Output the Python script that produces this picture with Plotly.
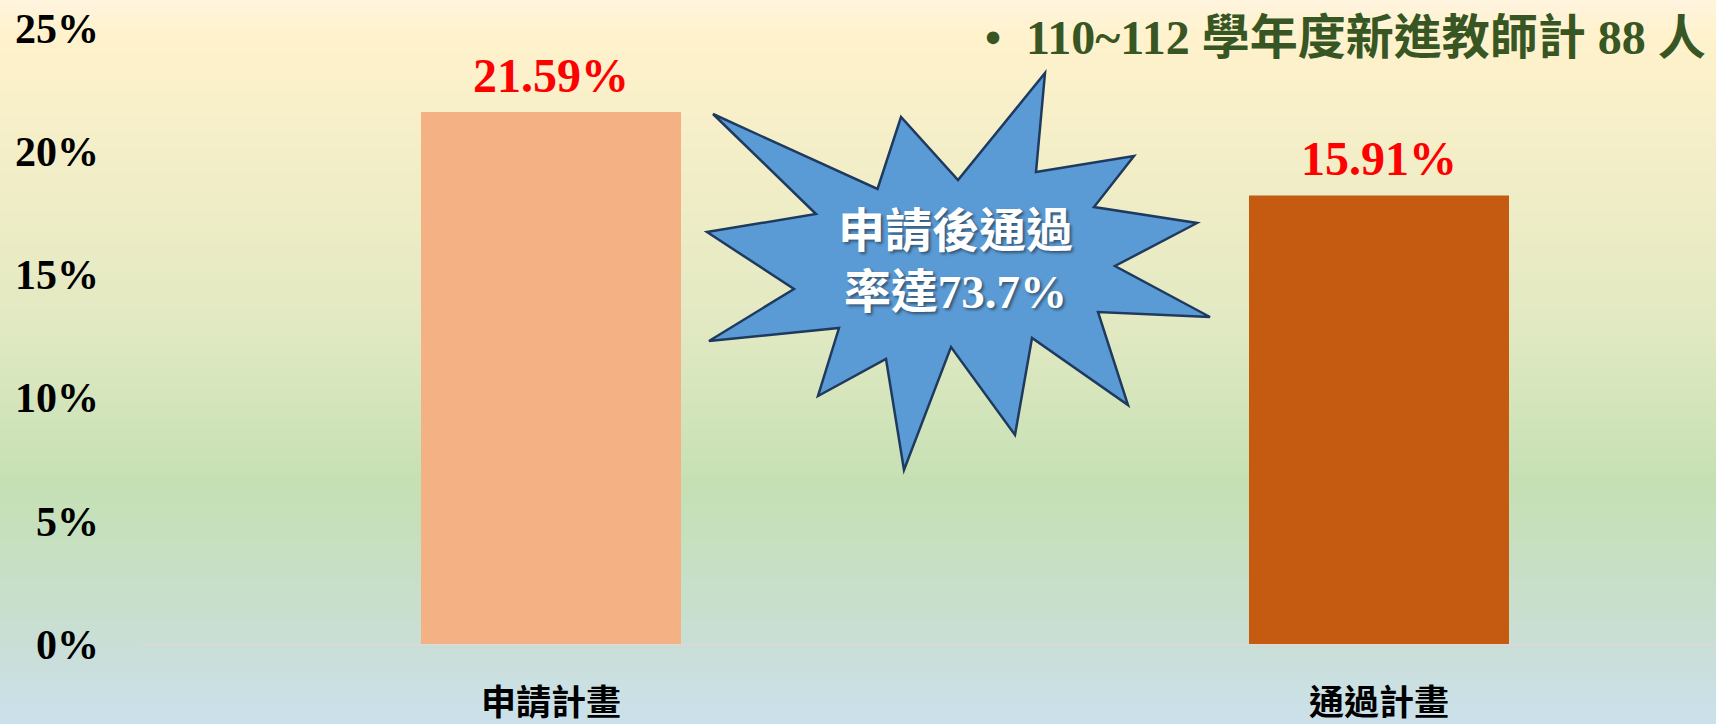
import plotly.graph_objects as go

# ---------------- data ----------------
categories = ["申請計畫", "通過計畫"]
bar_heights = [21.59, 18.2]          # bar heights as drawn in the reference (%)
value_labels = ["21.59%", "15.91%"]  # labels printed above the bars
bar_colors = ["#F4B183", "#C55A11"]
y_tickvals = [0, 5, 10, 15, 20, 25]
y_ticktext = ["0%", "5%", "10%", "15%", "20%", "25%"]
title_text = "110~112 學年度新進教師計 88 人"
burst_text = "申請後通過<br>率達73.7%"

# ---------------- layout geometry ----------------
W, H = 1716, 724
L, R, T, B = 140, 0, 28, 80
PW, PH = W - L - R, H - T - B


def px2x(px):
    return (px - L) / PW


def py2y(py):
    return (H - B - py) / PH


SERIF = "Liberation Serif, Times New Roman, Noto Sans CJK TC"
CJK = "Noto Sans CJK TC, Noto Sans CJK SC, sans-serif"

fig = go.Figure()
fig.add_trace(go.Bar(
    x=categories, y=bar_heights, width=0.314,
    marker=dict(color=bar_colors, line=dict(width=0)),
    hoverinfo="skip",
))

# ---------------- background gradient ----------------
stops = [
    (0.00, (255, 244, 222)),
    (0.05, (255, 242, 204)),
    (0.45, (226, 233, 194)),
    (0.67, (197, 224, 180)),
    (0.88, (201, 223, 212)),
    (1.00, (204, 224, 236)),
]


def grad(t):
    for (t0, c0), (t1, c1) in zip(stops[:-1], stops[1:]):
        if t0 <= t <= t1:
            f = (t - t0) / (t1 - t0) if t1 > t0 else 0
            return "rgb(%d,%d,%d)" % tuple(round(a + (b - a) * f) for a, b in zip(c0, c1))
    return "rgb(%d,%d,%d)" % stops[-1][1]


shapes = []
band = 4
for py in range(0, H, band):
    shapes.append(dict(
        type="rect", xref="paper", yref="paper", layer="below",
        x0=px2x(-2), x1=px2x(W + 2), y0=py2y(py + band + 0.6), y1=py2y(py),
        fillcolor=grad((py + band / 2) / H), line=dict(width=0),
    ))

# ---------------- starburst ----------------
burst_px = [
    (713, 114), (877.5, 189), (901, 117), (958, 180), (1045, 73), (1036, 172),
    (1134, 156), (1094, 207), (1197, 223), (1115, 266), (1210, 317), (1098, 312),
    (1128, 405), (1032, 338), (1015, 435), (951, 347), (904, 470), (886, 359),
    (818, 396), (839, 328), (709, 341), (794, 289), (707, 232), (816, 214),
]
path = "M " + " L ".join("%.5f,%.5f" % (px2x(x), py2y(y)) for x, y in burst_px) + " Z"
shapes.append(dict(
    type="path", xref="paper", yref="paper", layer="above", path=path,
    fillcolor="#5B9BD5", line=dict(color="#1F3A5F", width=2.5),
))

annotations = [
    dict(xref="paper", yref="paper", x=px2x(955), y=py2y(261),
         text="<b>" + burst_text + "</b>", showarrow=False,
         xanchor="center", yanchor="middle", align="center",
         font=dict(family=SERIF, size=47, color="white",
                   shadow="2px 2px 3px rgba(0,0,0,0.45)")),
    dict(xref="paper", yref="paper", x=px2x(1708), y=py2y(37),
         text="<b>" + title_text + "</b>", showarrow=False,
         xanchor="right", yanchor="middle",
         font=dict(family=SERIF, size=48, color="#375623")),
    dict(xref="paper", yref="paper", x=px2x(993), y=py2y(37),
         text="<b>•</b>", showarrow=False, xanchor="center", yanchor="middle",
         font=dict(family=SERIF, size=46, color="#375623")),
]
for c, v, lab in zip(categories, bar_heights, value_labels):
    annotations.append(dict(
        x=c, y=v, xref="x", yref="y", text="<b>" + lab + "</b>", showarrow=False,
        xanchor="center", yanchor="middle", yshift=37,
        font=dict(family=SERIF, size=48, color="#FF0000"),
    ))

fig.update_layout(
    width=W, height=H,
    margin=dict(l=L, r=R, t=T, b=B, pad=0, autoexpand=False),
    paper_bgcolor="rgb(204,224,236)",
    plot_bgcolor="rgba(0,0,0,0)",
    showlegend=False,
    shapes=shapes,
    annotations=annotations,
    xaxis=dict(
        range=[-0.4964, 1.407], showgrid=False, zeroline=False,
        showline=True, linecolor="#D9D9D9", linewidth=2,
        ticks="", ticklabelstandoff=27, automargin=False,
        tickfont=dict(family=CJK, size=35, color="black", weight="bold"),
        fixedrange=True,
    ),
    yaxis=dict(
        range=[0, 25], tickvals=y_tickvals, ticktext=y_ticktext,
        showgrid=False, zeroline=False, showline=False, ticks="",
        ticklabelstandoff=40, automargin=False,
        tickfont=dict(family=SERIF, size=42, color="black", weight="bold"),
        fixedrange=True,
    ),
)

fig.write_html(
    "out.html",
    config={"displayModeBar": False},
    post_script=(
        "document.documentElement.style.margin='0';"
        "document.documentElement.style.overflow='hidden';"
        "document.body.style.margin='0';"
        "document.body.style.overflow='hidden';"
        "var gd=document.getElementById('{plot_id}');"
        "gd.style.position='fixed';gd.style.top='0px';gd.style.left='0px';"
    ),
)
